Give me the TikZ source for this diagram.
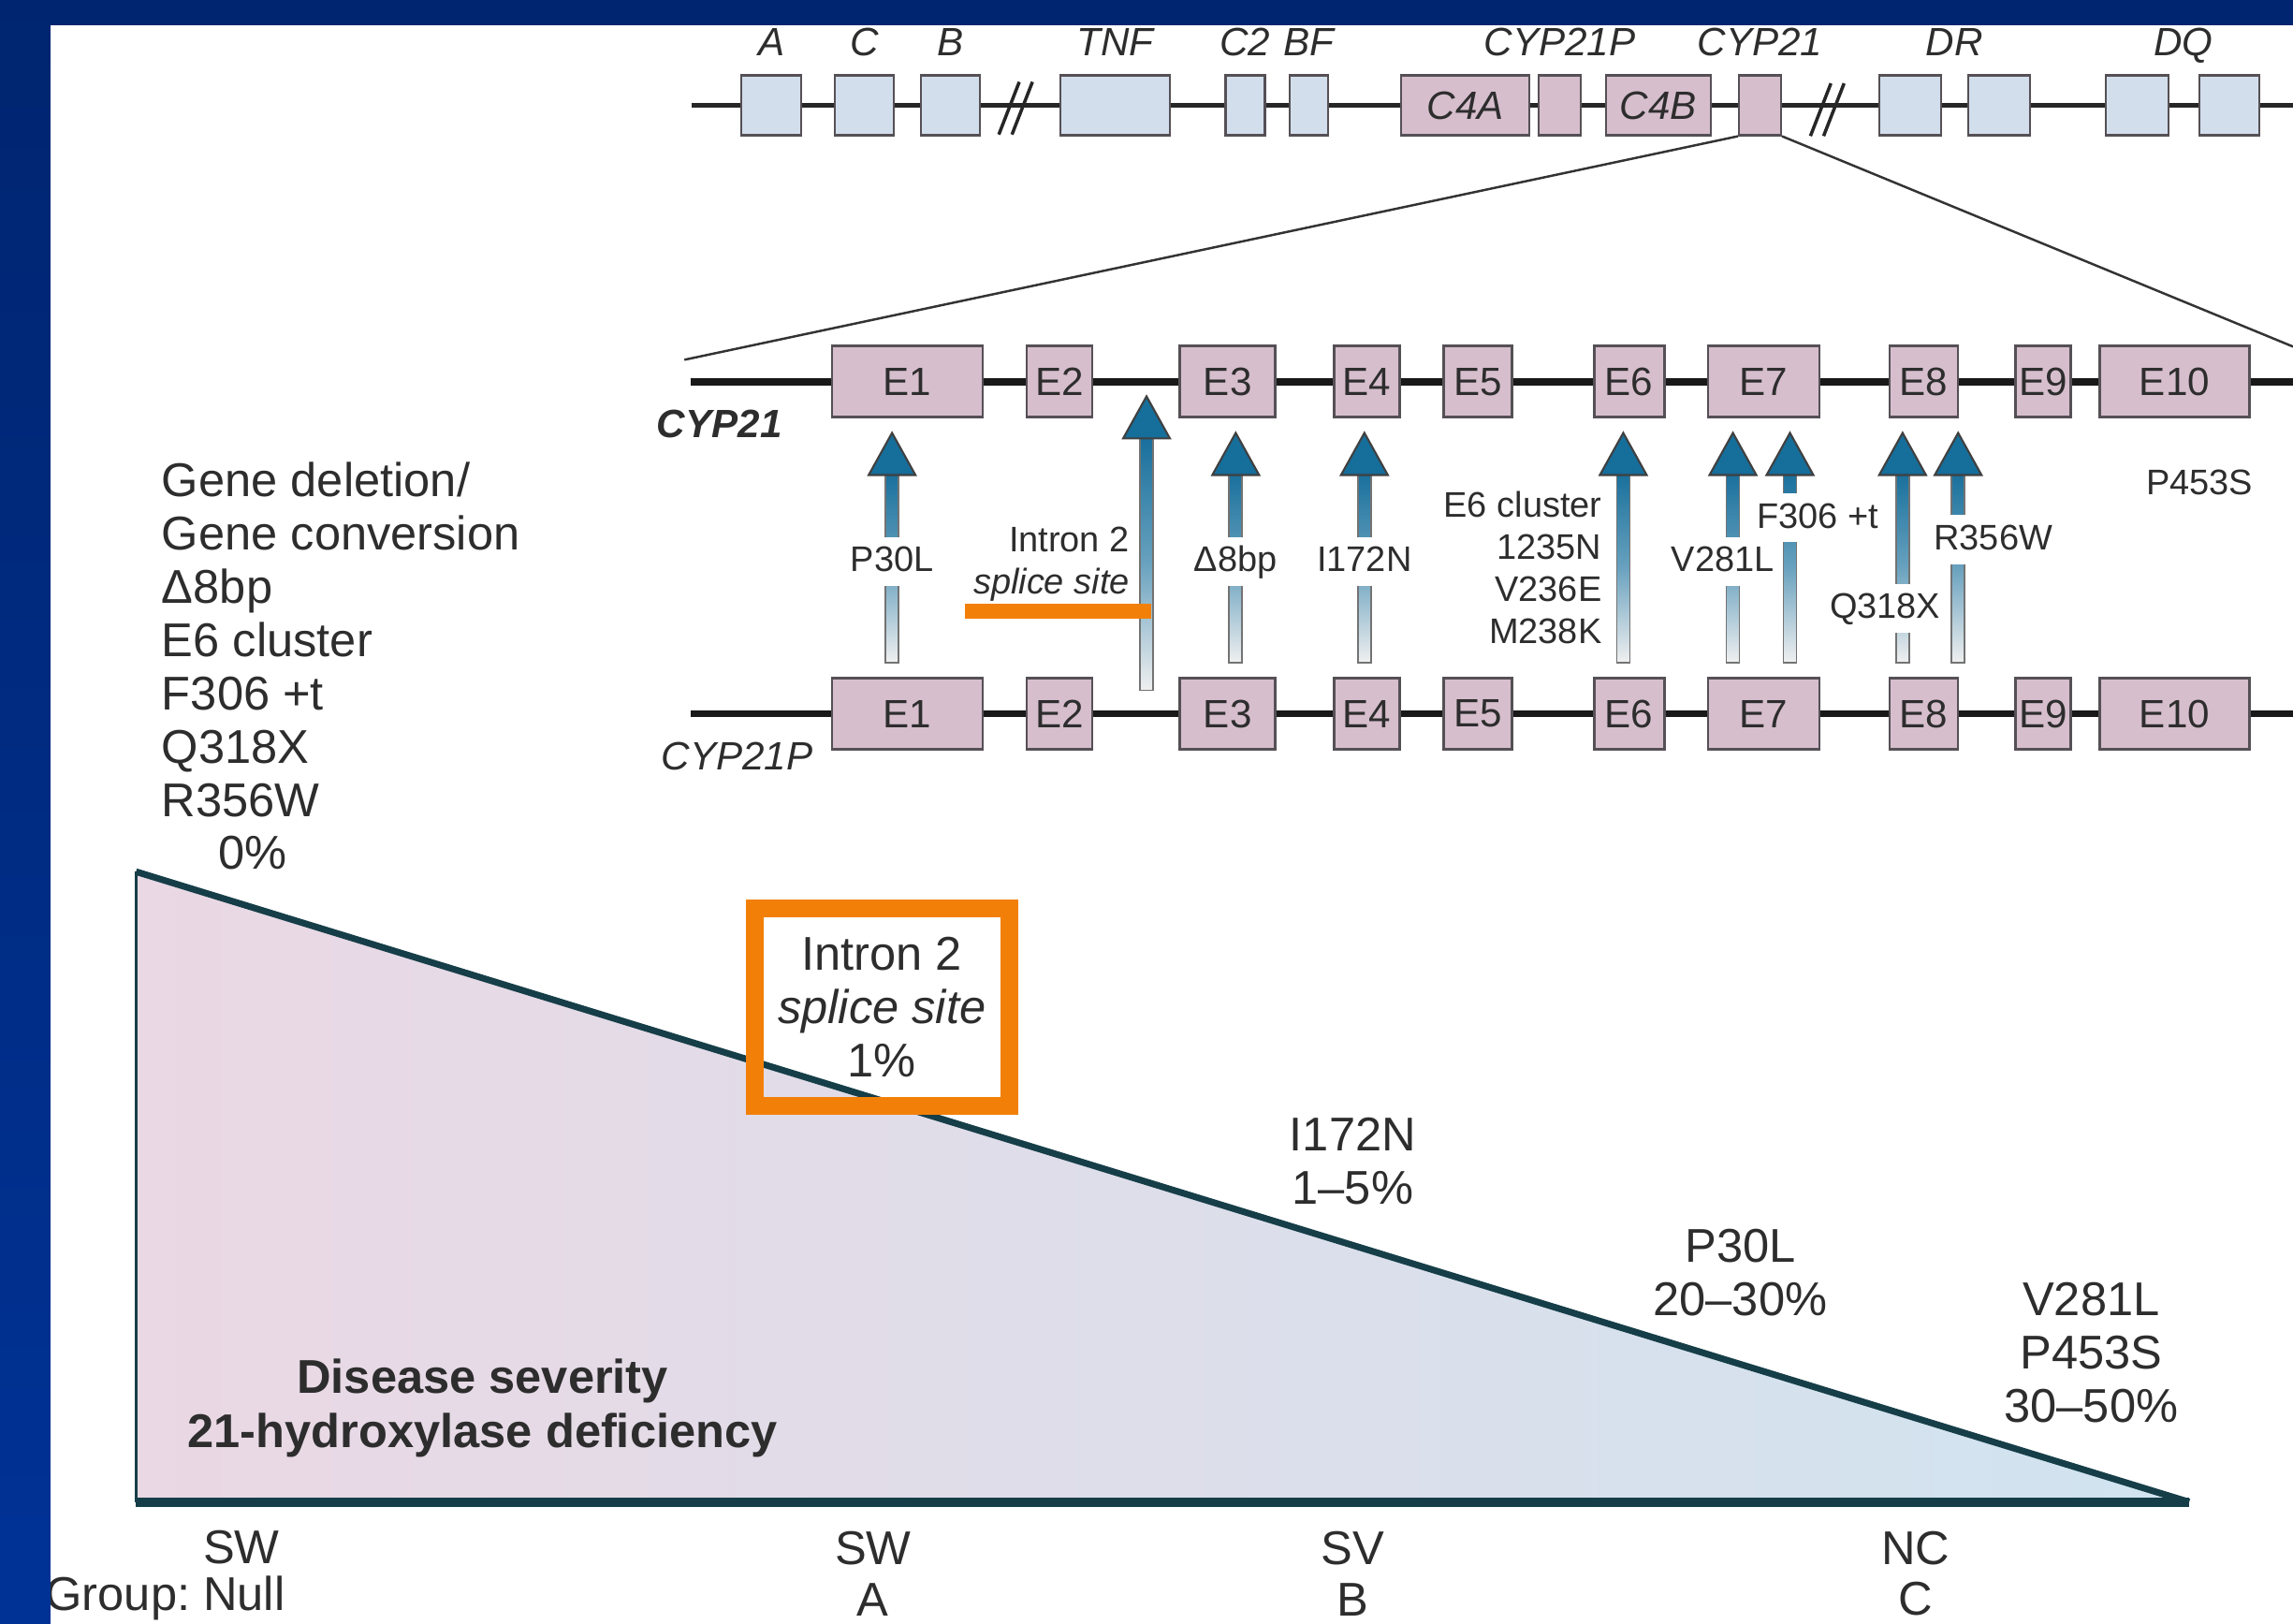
\documentclass[tikz,border=0pt]{standalone}
\usepackage{fontspec}
\setmainfont{Liberation Sans}
\usetikzlibrary{arrows.meta,positioning,calc}

\definecolor{slideblue}{RGB}{0,37,112}
\definecolor{slideblue2}{RGB}{0,50,150}
\definecolor{exonpink}{RGB}{214,190,205}
\definecolor{genelight}{RGB}{210,222,236}
\definecolor{boxedge}{RGB}{85,80,85}
\definecolor{mutblue}{RGB}{22,110,155}
\definecolor{hiorange}{RGB}{242,128,8}
\definecolor{triedge}{RGB}{22,62,72}
\definecolor{tripink}{RGB}{234,216,228}
\definecolor{triblue}{RGB}{208,228,240}
\definecolor{txt}{RGB}{45,45,45}

\begin{document}
\begin{tikzpicture}[x=0.15625mm, y=-0.15625mm,
    every node/.style={text=txt},
    gene/.style={rectangle, draw=boxedge, line width=0.6pt, fill=genelight,
                 minimum height=6.4mm, inner sep=0pt},
    cgene/.style={gene, fill=exonpink, font=\fontsize{12}{14}\selectfont\itshape},
    exon/.style={rectangle, draw=boxedge, line width=0.8pt, fill=exonpink,
                 minimum height=7.6mm, inner sep=0pt,
                 font=\fontsize{12}{14}\selectfont},
    glab/.style={anchor=base, font=\fontsize{12}{14}\selectfont\itshape},
    mut/.style={font=\fontsize{10.8}{12.8}\selectfont, inner sep=1pt},
    mutcut/.style={mut, fill=white, inner ysep=0pt, text height=7.8pt,
                   text depth=1.6pt, minimum height=15pt},
    big/.style={font=\fontsize{14.4}{16.2}\selectfont, align=center, inner sep=1pt},
    groups/.style={big, font=\fontsize{14.4}{15.5}\selectfont},
    chrom/.style={line width=1.3pt, black!85},
    backbone/.style={line width=2.2pt, black!90},
    shaft/.style={top color=mutblue, bottom color=black!6, middle color=mutblue!65,
                  draw=black!55, line width=0.5pt},
    head/.style={fill=mutblue, draw=black!75, line width=0.6pt},
]
\useasboundingbox (0,0) rectangle (1568,1110);
\fill[white] (0,0) rectangle (1568,1110);

% HLA region map
\node[gene, minimum width=6.4mm] (gA) at (527.5,72) {};
\node[gene, minimum width=6.25mm] (gC) at (591,72) {};
\node[gene, minimum width=6.25mm] (gB) at (650,72) {};
\node[gene, minimum width=11.7mm] (gTNF) at (762.5,72) {};
\node[gene, minimum width=4.2mm] (gC2) at (851.5,72) {};
\node[gene, minimum width=4.1mm] (gBF) at (895,72) {};
\node[cgene, minimum width=13.75mm] (gC4A) at (1002,72) {C4A};
\node[cgene, minimum width=4.5mm] (gP) at (1066.5,72) {};
\node[cgene, minimum width=11.25mm] (gC4B) at (1134,72) {C4B};
\node[cgene, minimum width=4.5mm] (gCYP) at (1203.5,72) {};
\node[gene, minimum width=6.6mm] (gDR1) at (1306,72) {};
\node[gene, minimum width=6.6mm] (gDR2) at (1367,72) {};
\node[gene, minimum width=6.7mm] (gDQ1) at (1461.5,72) {};
\node[gene, minimum width=6.4mm] (gDQ2) at (1524.5,72) {};
\coordinate (mL) at (473,72);
\coordinate (mR) at (1568,72);
\draw[chrom] (mL) -- (gA) -- (gC) -- (gB) -- (gTNF) -- (gC2) -- (gBF) -- (gC4A)
  -- (gP) -- (gC4B) -- (gCYP) -- (gDR1) -- (gDR2) -- (gDQ1) -- (gDQ2) -- (mR);
\draw[chrom, line width=1pt] (683,92) -- (697,56) (692,92) -- (706,56);
\draw[chrom, line width=1pt] (1238,93) -- (1252,57) (1247,93) -- (1261,57);

\foreach \k/\x/\t in {A/527.5/A, C/591/C, B/650/B, TNF/762.5/TNF, C2/851.5/C2,
    BF/895/BF, P/1066.5/CYP21P, CYP/1203.5/CYP21, DR/1336.5/DR, DQ/1493/DQ}
  \node[glab] (l\k) at (\x,38) {\t};

% zoom onto CYP21
\coordinate (zL) at (468,246);
\coordinate (zR) at (1568,237);
\draw[line width=0.7pt, black!80] (gCYP.south west) -- (zL) (gCYP.south east) -- (zR);

% CYP21 and CYP21P exons
\foreach \i/\x/\w in {1/620.5/16.1, 2/724.5/7.0, 3/839.5/10.2, 4/934.5/7.0,
    5/1010.5/7.3, 6/1114/7.5, 7/1206/11.9, 8/1315.5/7.3, 9/1397/5.9, 10/1487/16.0} {
  \node[exon, minimum width=\w mm] (a\i) at (\x,261) {E\i};
  \node[exon, minimum width=\w mm] (p\i) at (\x,488) {E\i};
}
\coordinate (aL) at (472,261);
\coordinate (aR) at (1568,261);
\coordinate (pL) at (472,488);
\coordinate (pR) at (1568,488);
\draw[backbone] (aL) -- (a1) -- (a2) -- (a3) -- (a4) -- (a5) -- (a6) -- (a7)
  -- (a8) -- (a9) -- (a10) -- (aR);
\draw[backbone] (pL) -- (p1) -- (p2) -- (p3) -- (p4) -- (p5) -- (p6) -- (p7)
  -- (p8) -- (p9) -- (p10) -- (pR);
\node[font=\fontsize{12}{14}\selectfont\bfseries\itshape] (lcyp) at (492,290) {CYP21};
\node[font=\fontsize{12}{14}\selectfont\itshape] (lcypp) at (504,517) {CYP21P};

% conversion arrows
\foreach \k/\x/\tip/\tail in {p30/610/296/453, int/784/271/472, d8/845/296/453,
    i172/933/296/453, e6/1110/296/453, v281/1185/296/453, f306/1224/296/453,
    q318/1301/296/453, r356/1339/296/453} {
  \coordinate (t-\k) at (\x,\tail);
  \coordinate (h-\k) at (\x,\tip);
  \shade[shaft] ([xshift=-0.7mm]t-\k) rectangle ([xshift=0.7mm,yshift=-4mm]h-\k);
  \filldraw[head] (h-\k) -- ([xshift=-2.5mm,yshift=-4.5mm]h-\k)
    -- ([xshift=2.5mm,yshift=-4.5mm]h-\k) -- cycle;
}

\node[mutcut] (lp30) at (610,384) {P30L};
\node[mutcut] (ld8) at (845,384) {Δ8bp};
\node[mutcut] (li172) at (933,384) {I172N};
\node[mutcut] (lv281) at (1178,384) {V281L};
\node[mutcut] (lf306) at (1243,354) {F306 +t};
\node[mutcut] (lq318) at (1289,416) {Q318X};
\node[mutcut] (lr356) at (1363,369) {R356W};
\node[mut] (lp453) at (1504,330) {P453S};
\node[mut, align=right, anchor=east] (le6) at (1098,388)
  {E6 cluster\\1235N\\V236E\\M238K};
\node[mut, align=right, anchor=east] (lint) at (775,386)
  {Intron 2\\\textit{splice site}};
\draw[hiorange, line width=4.4pt] (660,418) -- (787,418);

% mutations removed from CYP21
\node[big, align=left, anchor=west] (gdel) at (108,437.5)
  {Gene deletion/\\Gene conversion\\Δ8bp\\E6 cluster\\F306 +t\\Q318X\\R356W};
\node[big] (zero) at (173,583) {0\%};

% severity triangle
\coordinate (apex) at (93,596);
\coordinate (corner) at (93,1027);
\coordinate (tipR) at (1497,1027);
\shade[left color=tripink, right color=triblue] (apex) -- (corner) -- (tipR) -- cycle;
\draw[triedge, line width=1pt] (corner) -- (apex);
\draw[triedge, line width=2pt] (apex) -- (tipR);
\draw[triedge, line width=2.8pt] (corner) -- (tipR);

\node[big, draw=hiorange, line width=5.3pt, minimum width=27.2mm,
      minimum height=21.1mm] (ibox) at (603,688.5)
  {Intron 2\\\textit{splice site}\\1\%};
\node[big] (l172) at (925,794) {I172N\\1--5\%};
\node[big] (lp30b) at (1190,870) {P30L\\20--30\%};
\node[big] (lnc) at (1430,925) {V281L\\P453S\\30--50\%};
\node[big, font=\fontsize{14.4}{16.4}\selectfont\bfseries] (sev) at (330,963)
  {Disease severity\\21-hydroxylase deficiency};

% clinical groups
\node[big] (sw0) at (165,1058) {SW};
\node[big] (gnull) at (113,1093) {Group:\ Null};
\node[groups] (ga) at (597,1076) {SW\\A};
\node[groups] (gb) at (925,1076) {SV\\B};
\node[groups] (gc) at (1310,1076) {NC\\C};

% slide frame
\fill[slideblue] (0,0) rectangle (1568,17.3);
\shade[top color=slideblue, bottom color=slideblue2] (0,0) rectangle (34.5,1110);
\end{tikzpicture}
\end{document}
